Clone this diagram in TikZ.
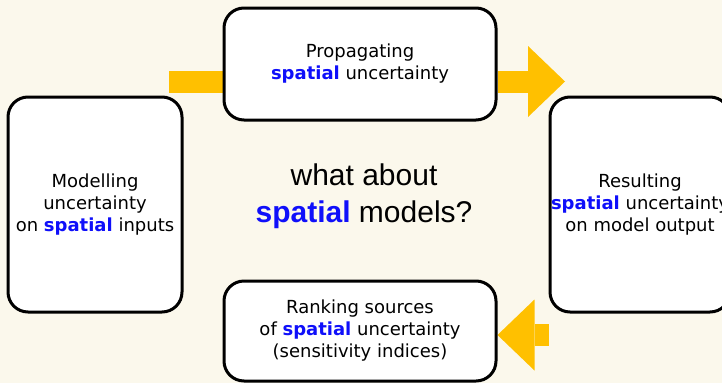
\documentclass[tikz,border=0pt]{standalone}
\usepackage{fontspec}
\setmainfont{DejaVu Sans}
\newfontfamily\arialfont{Liberation Sans}
\usepackage{xcolor}
\usetikzlibrary{arrows.meta, calc, backgrounds}

\definecolor{parchment}{RGB}{251,248,236}
\definecolor{arrowyellow}{RGB}{255,192,0}
\definecolor{spatialblue}{RGB}{15,15,250}
\newcommand{\spatial}{\textcolor{spatialblue}{\textbf{spatial}}}

\begin{document}
\begin{tikzpicture}[x=1pt, y=-1pt,
    stage/.style={draw=black, line width=3pt, fill=white, rounded corners=20pt,
      align=center, inner sep=0pt, font=\fontsize{18}{22}\selectfont},
    flow/.style={color=arrowyellow, line width=22pt,
      -{Triangle[length=37pt, width=71pt, line width=0pt]}}]
    \useasboundingbox (0,0) rectangle (722,383);

    % Modelling
    \node[stage, minimum width=174pt, minimum height=215pt] (model) at (95,204.5)
      {Modelling\\uncertainty\\on \spatial{} inputs};

    % Propagating
    \node[stage, minimum width=272pt, minimum height=112pt] (propagate) at (360,64)
      {Propagating\\\spatial{} uncertainty};

    % Resulting
    \node[stage, minimum width=180pt, minimum height=215pt] (result) at (640,204.5)
      {Resulting\\\spatial{} uncertainty\\on model output};

    % Ranking
    \node[stage, minimum width=272pt, minimum height=100pt] (rank) at (360,331)
      {Ranking sources\\of \spatial{} uncertainty\\(sensitivity indices)};

    % question in the middle
    \node[font=\arialfont\fontsize{30}{37}\selectfont, align=center] (question) at (364,196)
      {what about\\\spatial{} models?};

    % arrows under the boxes
    \begin{pgfonlayer}{background}
      \fill[parchment] (0,0) rectangle (722,383);
      \coordinate (start) at (169,82);
      \coordinate (tip) at (565,81.5);
      \coordinate (back) at ($(rank.east)+(0,4)$);
      \draw[flow] (start) -- (start -| propagate.center);
      \draw[flow] (tip -| propagate.east) -- (tip);
      \draw[flow] (back -| result.west) -- (back);
    \end{pgfonlayer}
\end{tikzpicture}
\end{document}
